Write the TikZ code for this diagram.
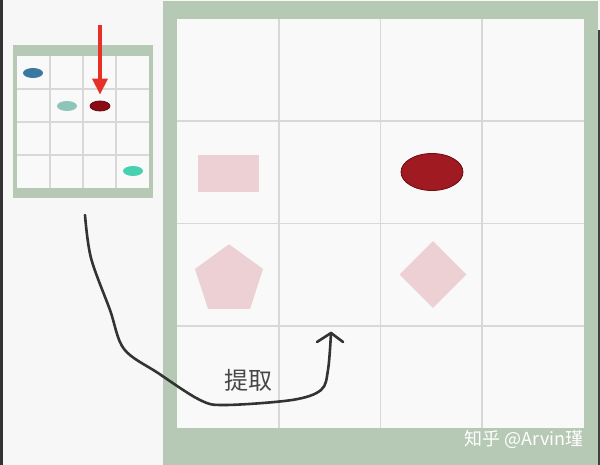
\documentclass[tikz,border=0pt]{standalone}
\usepackage{fontspec}
\newfontfamily\cjk{Noto Sans CJK SC}
\usetikzlibrary{arrows.meta,positioning,shapes,calc}
\definecolor{paper}{RGB}{247,247,247}
\definecolor{framegreen}{RGB}{182,201,181}
\definecolor{cellwhite}{RGB}{249,249,249}
\definecolor{gridgray}{RGB}{216,216,216}
\definecolor{dotblue}{RGB}{58,120,160}
\definecolor{dotsage}{RGB}{143,196,184}
\definecolor{dotred}{RGB}{140,10,20}
\definecolor{dotcyan}{RGB}{72,208,176}
\definecolor{shapepink}{RGB}{236,208,212}
\definecolor{darkred}{RGB}{160,26,34}
\definecolor{arrowred}{RGB}{230,48,40}
\definecolor{pencil}{RGB}{50,52,50}

\begin{document}
\begin{tikzpicture}[x=1pt,y=-1pt,
    dot/.style={ellipse, inner sep=0pt, minimum width=20pt, minimum height=10pt},
    pinkshape/.style={fill=shapepink, inner sep=0pt}]
\useasboundingbox (0,0) rectangle (600,465);
\fill[paper] (0,0) rectangle (600,465);
\fill[black!80] (0,0) rectangle (2.5,465);
% small grid
\fill[framegreen] (13,45) rectangle (153,198);
\fill[cellwhite] (17,56) rectangle (149,188);
\foreach \i in {1,2,3} {
  \draw[gridgray, line width=1.2pt] (17+33*\i,56) -- (17+33*\i,188);
  \draw[gridgray, line width=1.2pt] (17,56+33*\i) -- (149,56+33*\i);
}
\node[dot, fill=dotblue] (bluedot) at (33,73) {};
\node[dot, fill=dotsage] (sagedot) at (67,106) {};
\node[dot, fill=dotred, draw=dotred!70!black, line width=0.8pt] (reddot) at (100,106) {};
\node[dot, fill=dotcyan] (cyandot) at (133,171) {};
\coordinate (pointer) at (100,25);
\draw[arrowred, line width=3.5pt, -{Triangle[length=16pt,width=15pt]}, shorten >=6pt] (pointer) -- (reddot.north);
% big grid
\fill[framegreen] (163,1) rectangle (598,465);
\fill[black!75] (598,30) rectangle (600,465);
\fill[cellwhite] (177,19) rectangle (584,428);
\foreach \i in {1,2,3} {
  \draw[gridgray, line width=1.6pt] (177+101.75*\i,19) -- (177+101.75*\i,428);
  \draw[gridgray, line width=1.6pt] (177,19+102.25*\i) -- (584,19+102.25*\i);
}
\node[pinkshape, rectangle, minimum width=61pt, minimum height=37pt] (rect) at (228.5,173.5) {};
\node[ellipse, fill=darkred, draw=dotred!80!black, line width=0.8pt, inner sep=0pt, minimum width=62pt, minimum height=37pt] (oval) at (432,172) {};
\node[pinkshape, regular polygon, regular polygon sides=5, minimum size=71.5pt] (penta) at (229,280) {};
\node[pinkshape, diamond, minimum width=67pt, minimum height=67pt] (rhomb) at (433,274.5) {};
% extraction stroke
\coordinate (strokestart) at (85,215);
\coordinate (strokeend) at (331,333);
\draw[pencil, line width=2.6pt, line cap=round, line join=round]
  plot[smooth, tension=0.55] coordinates {(strokestart) (91,258) (110,310) (124,349) (158,373) (200,400) (225,405) (292,400) (321,390) (328,370) (strokeend)};
\draw[pencil, line width=2.6pt, line cap=round, line join=round] (317,342) -- (strokeend) -- (343,342);
\node[font=\cjk\fontsize{24}{24}\selectfont, text=pencil!90] (extract) at (248,380) {提取};
\node[font=\cjk\fontsize{18}{18}\selectfont, text=white, anchor=east] (mark) at (587,439) {知乎 @Arvin瑾};
\end{tikzpicture}
\end{document}
